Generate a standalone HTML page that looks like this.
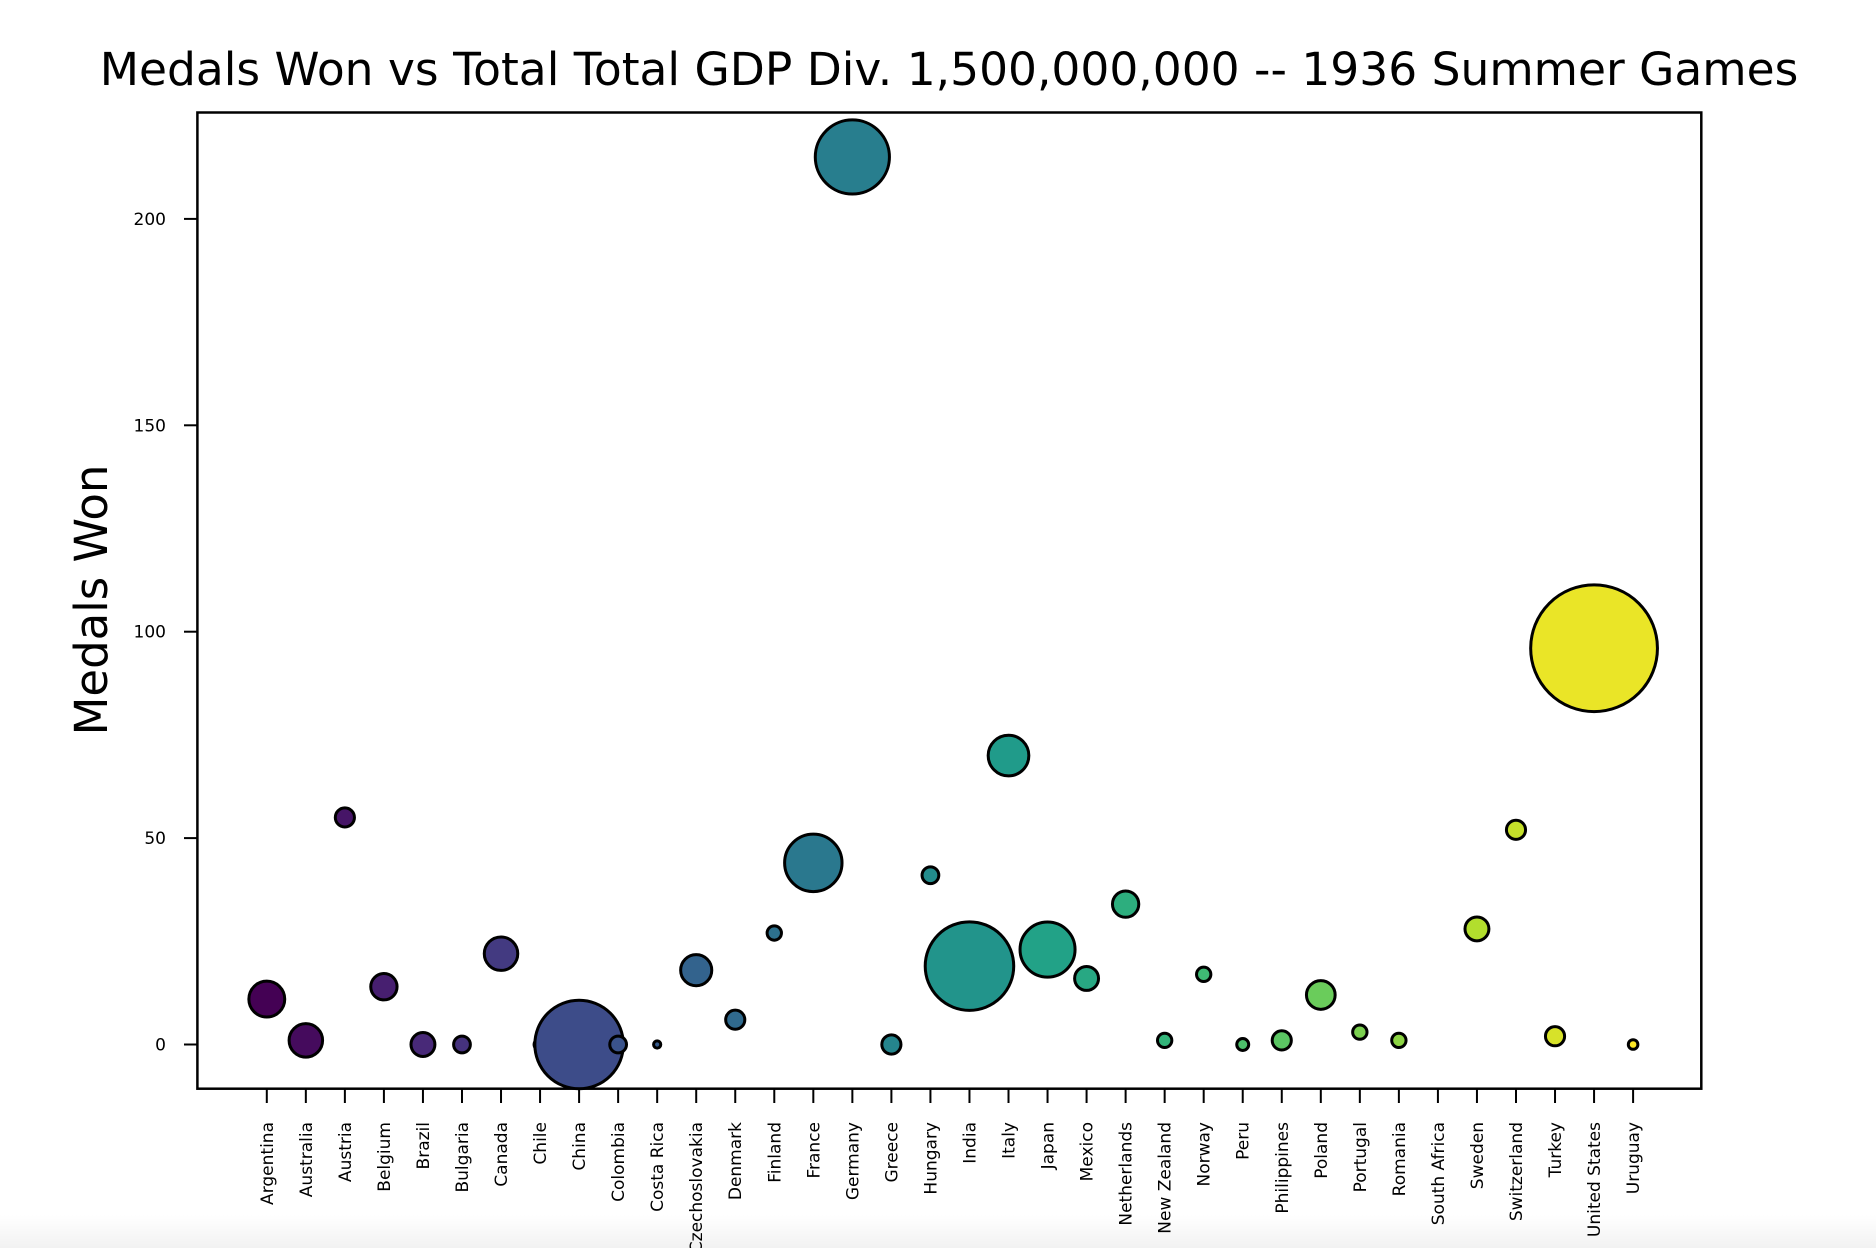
<!DOCTYPE html>
<html><head><meta charset="utf-8"><style>
html,body{margin:0;padding:0;background:#fff;width:1876px;height:1248px;overflow:hidden}
svg{font-family:"DejaVu Sans","Liberation Sans",sans-serif}
</style></head><body>
<svg id="chart" width="1876" height="1248" xmlns="http://www.w3.org/2000/svg">
<defs><linearGradient id="fade" x1="0" y1="0" x2="0" y2="1"><stop offset="0" stop-color="#fff"/><stop offset="1" stop-color="#f2f2f2"/></linearGradient></defs>
<rect x="0" y="1215" width="1876" height="33" fill="url(#fade)"/>
<text x="949" y="85" font-size="45.5" text-anchor="middle" fill="#000">Medals Won vs Total Total GDP Div. 1,500,000,000 -- 1936 Summer Games</text>
<text transform="translate(107,600) rotate(-90)" font-size="45" text-anchor="middle" fill="#000">Medals Won</text>
<g id="marks"></g>
<rect x="197.4" y="112.5" width="1503.9" height="976.2" fill="none" stroke="#000" stroke-width="2.5"/>
<g id="axes"></g>
</svg>
<script>
const countries = ["Argentina","Australia","Austria","Belgium","Brazil","Bulgaria","Canada","Chile","China","Colombia","Costa Rica","Czechoslovakia","Denmark","Finland","France","Germany","Greece","Hungary","India","Italy","Japan","Mexico","Netherlands","New Zealand","Norway","Peru","Philippines","Poland","Portugal","Romania","South Africa","Sweden","Switzerland","Turkey","United States","Uruguay"];
const medals = [11,1,55,14,0,0,22,0,0,0,0,18,6,27,44,215,0,41,19,70,23,16,34,1,17,0,1,12,3,1,0,28,52,2,96,0];
const gdp = [225,196,64,121,100,49,196,25,1369,49,9,169,64,36,576,961,64,49,1369,289,529,100,121,36,36,25,64,144,36,36,0,100,64,64,2809,16];
const yTicks = [0,50,100,150,200];

const NS="http://www.w3.org/2000/svg";
const xScale=i=>266.8+i*(1633.1-266.8)/35;
const yScale=v=>1044.5-v*(1044.5-218.9)/200;
const rScale=g=>Math.sqrt(g)*1.196;
const vir=[[68,1,84],[72,40,120],[62,74,137],[49,104,142],[38,130,142],[31,158,137],[53,183,121],[109,205,89],[180,222,44],[253,231,37]];
function viridis(t){const p=t*(vir.length-1),i=Math.min(Math.floor(p),vir.length-2),f=p-i;const c=vir[i].map((a,k)=>Math.round(a+(vir[i+1][k]-a)*f));return `rgb(${c.join(',')})`;}

const marks=document.getElementById('marks');
const axes=document.getElementById('axes');
countries.forEach((c,i)=>{
  const r=rScale(gdp[i]);
  if(r>0){
    const el=document.createElementNS(NS,'circle');
    el.setAttribute('cx',xScale(i));el.setAttribute('cy',yScale(medals[i]));el.setAttribute('r',r);
    el.setAttribute('fill',viridis(i/(countries.length-1)));el.setAttribute('stroke','#000');el.setAttribute('stroke-width','3');
    
    
    marks.appendChild(el);
  }
  const t=document.createElementNS(NS,'line');
  t.setAttribute('x1',xScale(i));t.setAttribute('x2',xScale(i));t.setAttribute('y1',1088.7);t.setAttribute('y2',1103);
  t.setAttribute('stroke','#000');t.setAttribute('stroke-width','2');
  
  
  axes.appendChild(t);
  const l=document.createElementNS(NS,'text');
  l.setAttribute('transform',`translate(${xScale(i)+6},1122) rotate(-90)`);
  l.setAttribute('font-size','17');l.setAttribute('text-anchor','end');l.textContent=c;
  
  
  axes.appendChild(l);
});
yTicks.forEach(v=>{
  const t=document.createElementNS(NS,'line');
  t.setAttribute('x1',184);t.setAttribute('x2',197.4);t.setAttribute('y1',yScale(v));t.setAttribute('y2',yScale(v));
  t.setAttribute('stroke','#000');t.setAttribute('stroke-width','2');
  
  
  axes.appendChild(t);
  const l=document.createElementNS(NS,'text');
  l.setAttribute('x',166);l.setAttribute('y',yScale(v)+6);l.setAttribute('font-size','17');l.setAttribute('text-anchor','end');
  l.textContent=v;
  
  
  axes.appendChild(l);
});
</script>
</body></html>
